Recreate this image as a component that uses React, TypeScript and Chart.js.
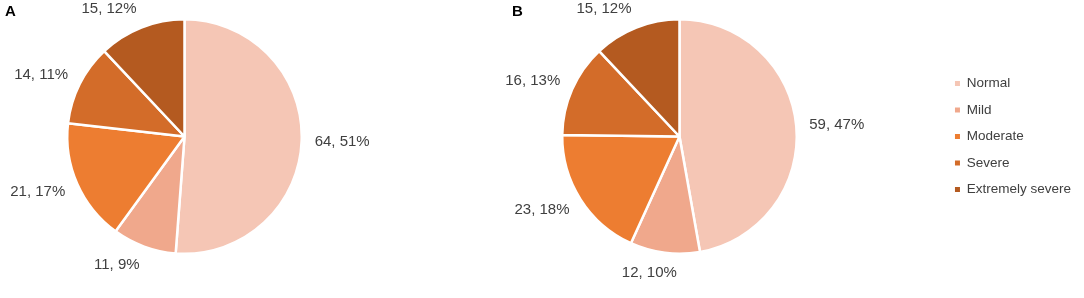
import React, { useEffect, useRef } from "react";
import { Chart, registerables } from "chart.js";

Chart.register(...registerables);

const categories = ["Normal", "Mild", "Moderate", "Severe", "Extremely severe"];
const countsA = [64, 11, 21, 14, 15];
const percentA = [51, 9, 17, 11, 12];
const countsB = [59, 12, 23, 16, 15];
const percentB = [47, 10, 18, 13, 12];
const colors = ["#F5C6B5", "#F0A88C", "#ED7D31", "#D36C29", "#B45A20"];

const FONT = "'Liberation Sans', Arial, sans-serif";
const TEXT = "#404040";

function makeLabelPlugin(counts: number[], pcts: number[]) {
  return {
    id: "outLabels",
    afterDatasetsDraw(chart: any) {
      const ctx = chart.ctx;
      const meta = chart.getDatasetMeta(0);
      ctx.save();
      ctx.font = `15px ${FONT}`;
      ctx.fillStyle = TEXT;
      ctx.textAlign = "center";
      ctx.textBaseline = "middle";
      meta.data.forEach((arc: any, i: number) => {
        const { x, y, startAngle, endAngle, outerRadius } = arc.getProps(
          ["x", "y", "startAngle", "endAngle", "outerRadius"],
          true
        );
        const mid = (startAngle + endAngle) / 2;
        const c = Math.cos(mid);
        const s = Math.sin(mid);
        const r = outerRadius + 13;
        const ax = x + c * r;
        const ay = y + s * r;
        const text = `${counts[i]}, ${pcts[i]}%`;
        const w = ctx.measureText(text).width;
        const h = 14;
        const k = Math.max(-1, Math.min(1, c * 4));
        ctx.fillText(text, ax + (w / 2) * k, ay + (h / 2) * s);
      });
      ctx.restore();
    },
  };
}

function PieChart(props: {
  counts: number[];
  pcts: number[];
  width: number;
  left: number;
  legend: boolean;
  padding: any;
}) {
  const ref = useRef<HTMLCanvasElement | null>(null);
  useEffect(() => {
    if (!ref.current) return;
    const chart = new Chart(ref.current, {
      type: "pie",
      data: {
        labels: categories,
        datasets: [
          {
            data: props.counts,
            backgroundColor: colors,
            borderColor: "#FFFFFF",
            borderWidth: 2.5,
          },
        ],
      },
      options: {
        responsive: false,
        animation: false,
        devicePixelRatio: 1,
        layout: { padding: props.padding },
        plugins: {
          tooltip: { enabled: false },
          legend: {
            display: props.legend,
            position: "right",
            labels: {
              boxWidth: 5,
              boxHeight: 5,
              padding: 13,
              color: TEXT,
              font: { size: 13.5, family: FONT },
              generateLabels: (ch: any) => {
                const base = (Chart as any).overrides.pie.plugins.legend.labels.generateLabels(ch);
                return base.map((it: any) => ({ ...it, lineWidth: 0, strokeStyle: "rgba(0,0,0,0)" }));
              },
            },
          },
        },
      },
      plugins: [makeLabelPlugin(props.counts, props.pcts)],
    } as any);
    return () => chart.destroy();
  }, []);
  return (
    <canvas
      ref={ref}
      width={props.width}
      height={298}
      style={{ position: "absolute", left: props.left, top: 0, width: props.width, height: 298 }}
    />
  );
}

export default function App() {
  const letter: React.CSSProperties = {
    position: "absolute",
    top: 2,
    fontFamily: FONT,
    fontWeight: "bold",
    fontSize: 15,
    color: "#000",
    lineHeight: "17px",
  };
  return (
    <div style={{ position: "absolute", left: 0, top: 0, width: 1084, height: 298, background: "#fff", overflow: "hidden" }}>
      <PieChart
        counts={countsA}
        pcts={percentA}
        width={400}
        left={0}
        legend={false}
        padding={{ top: 18, bottom: 43, left: 0, right: 31 }}
      />
      <PieChart
        counts={countsB}
        pcts={percentB}
        width={714}
        left={370}
        legend={true}
        padding={{ top: 18, bottom: 43, left: 47, right: 3 }}
      />
      <div style={{ ...letter, left: 5 }}>A</div>
      <div style={{ ...letter, left: 512 }}>B</div>
    </div>
  );
}
